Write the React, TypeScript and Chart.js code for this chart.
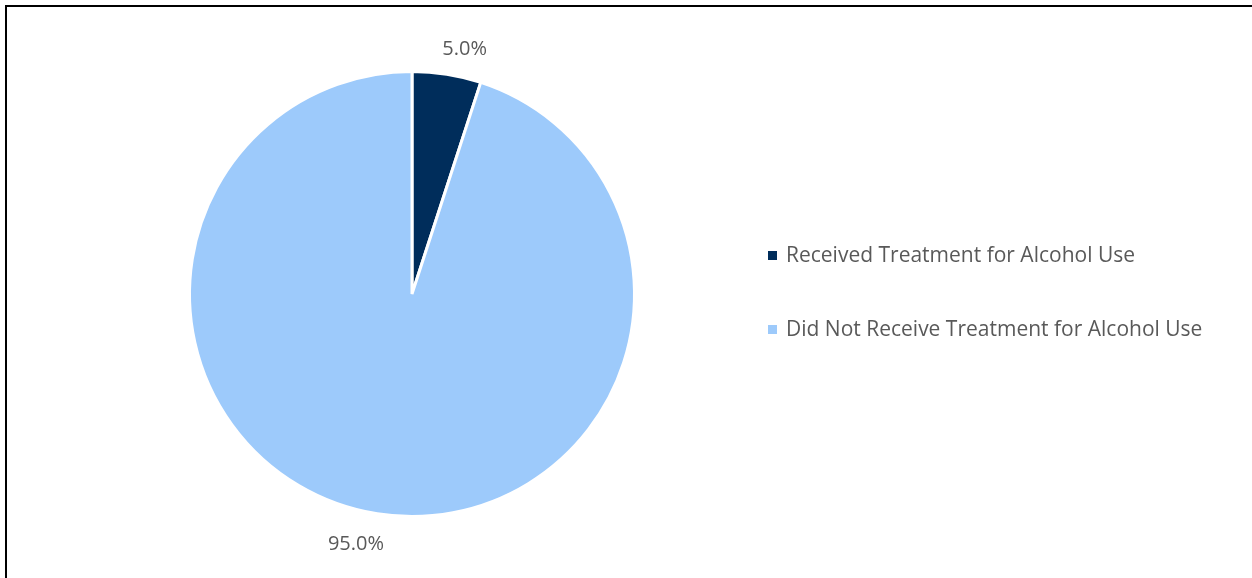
import React, { useEffect, useRef } from "react";
import { Chart, registerables } from "chart.js";

Chart.register(...registerables);

const categories: string[] = [
  "Received Treatment for Alcohol Use",
  "Did Not Receive Treatment for Alcohol Use",
];
const values: number[] = [5.0, 95.0];
const sliceColors: string[] = ["#002D5B", "#9DCAFB"];

const FONT = "'Open Sans', 'Noto Sans', sans-serif";
const TEXT_COLOR = "#595959";

const labelPlugin = {
  id: "outsideLabels",
  afterDatasetsDraw(chart: any) {
    const ctx = chart.ctx;
    const meta = chart.getDatasetMeta(0);
    const ds = chart.data.datasets[0];
    ctx.save();
    ctx.font = `20px ${FONT}`;
    ctx.fillStyle = TEXT_COLOR;
    ctx.textBaseline = "middle";
    ctx.textAlign = "center";
    meta.data.forEach((arc: any, i: number) => {
      const mid = (arc.startAngle + arc.endAngle) / 2;
      const r = arc.outerRadius + 28;
      const dx = Math.cos(mid);
      const dy = Math.sin(mid);
      const text = `${Number(ds.data[i]).toFixed(1)}%`;
      const w = ctx.measureText(text).width;
      const x = arc.x + r * dx + Math.sign(dx) * w * 0.3;
      const y = arc.y + r * dy + 3;
      ctx.fillText(text, x, y);
    });
    ctx.restore();
  },
};

const legendPlugin = {
  id: "customLegend",
  afterDraw(chart: any) {
    const ctx = chart.ctx;
    const labels = chart.data.labels as string[];
    const colors = chart.data.datasets[0].backgroundColor as string[];
    ctx.save();
    ctx.font = `21px ${FONT}`;
    ctx.textBaseline = "middle";
    ctx.textAlign = "left";
    const x0 = 768;
    const y0 = 256;
    const step = 74;
    labels.forEach((lab, i) => {
      const y = y0 + i * step;
      ctx.fillStyle = colors[i];
      ctx.fillRect(x0, y - 5, 9, 9);
      ctx.fillStyle = TEXT_COLOR;
      ctx.fillText(lab, x0 + 18, y);
    });
    ctx.restore();
  },
};

export default function App() {
  const ref = useRef<HTMLCanvasElement | null>(null);
  useEffect(() => {
    if (!ref.current) return;
    const chart = new Chart(ref.current, {
      type: "pie",
      data: {
        labels: categories,
        datasets: [
          {
            data: values,
            backgroundColor: sliceColors,
            borderColor: "#ffffff",
            borderWidth: 3,
          },
        ],
      },
      options: {
        animation: false,
        responsive: false,
        maintainAspectRatio: false,
        layout: { padding: { top: 70, bottom: 60, left: 188, right: 616 } },
        plugins: {
          legend: { display: false },
          tooltip: { enabled: false },
        },
      },
      plugins: [labelPlugin, legendPlugin],
    });
    return () => chart.destroy();
  }, []);

  return (
    <div
      style={{
        position: "fixed",
        left: 0,
        top: 0,
        width: 1252,
        height: 578,
        background: "#ffffff",
        overflow: "hidden",
      }}
    >
      <canvas ref={ref} width={1252} height={578} style={{ position: "absolute", left: 0, top: 0 }} />
      <div
        style={{
          position: "absolute",
          left: 5,
          top: 5,
          width: 1260,
          height: 600,
          borderTop: "2px solid #000",
          borderLeft: "2px solid #000",
          boxSizing: "border-box",
          pointerEvents: "none",
        }}
      />
    </div>
  );
}
